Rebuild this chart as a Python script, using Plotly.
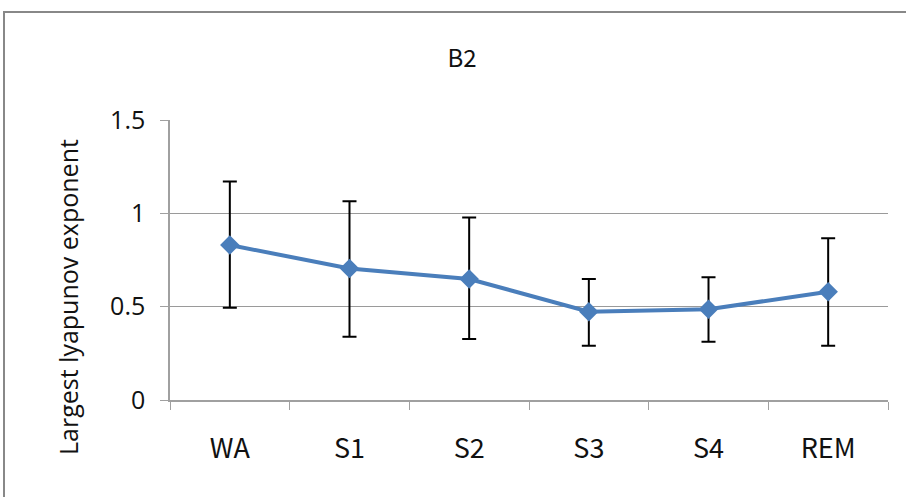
import plotly.graph_objects as go

categories = ["WA", "S1", "S2", "S3", "S4", "REM"]
means = [0.83, 0.705, 0.648, 0.473, 0.486, 0.58]
err_plus = [0.34, 0.36, 0.33, 0.175, 0.171, 0.286]
err_minus = [0.336, 0.366, 0.321, 0.182, 0.174, 0.289]
y_ticks = [0, 0.5, 1, 1.5]
y_tick_labels = ["0", "0.5", "1", "1.5"]

fig = go.Figure()
fig.add_trace(go.Scatter(
    x=categories, y=means, mode="lines+markers",
    line=dict(color="#4a7ebb", width=4),
    marker=dict(symbol="diamond", size=15, color="#4a7ebb"),
    error_y=dict(type="data", symmetric=False, array=err_plus, arrayminus=err_minus,
                 color="black", thickness=2, width=7),
    showlegend=False,
))

fig.update_layout(
    width=906, height=497,
    margin=dict(l=170, r=18, t=120, b=97),
    paper_bgcolor="white", plot_bgcolor="white",
    title=dict(text="B2", x=462/906, xanchor="center", y=1-59/497, yanchor="middle",
               font=dict(family="Noto Sans CJK KR", size=24, color="#111111")),
    xaxis=dict(
        type="category", showgrid=False, showline=True, linecolor="#a0a0a0", linewidth=1.5,
        ticks="outside", tickson="boundaries", ticklen=8, tickcolor="#a0a0a0",
        tickfont=dict(family="Noto Sans CJK KR", size=27, color="#111111"),
        ticklabelstandoff=24, range=[-0.5, 5.5],
    ),
    yaxis=dict(
        range=[0, 1.5], tickvals=y_ticks, ticktext=y_tick_labels,
        showgrid=True, gridcolor="#9a9a9a", gridwidth=1,
        showline=True, linecolor="#a0a0a0", linewidth=1.5,
        ticks="outside", ticklen=8, tickcolor="#a0a0a0",
        tickfont=dict(family="Open Sans", size=25, color="#111111"),
        ticklabelstandoff=10, zeroline=False,
    ),
    shapes=[dict(type="rect", xref="paper", yref="paper",
                 x0=(4 - 170) / 718, x1=1.2, y0=-0.6, y1=(400 - 12) / 280,
                 line=dict(color="#888888", width=2), fillcolor="rgba(0,0,0,0)", layer="below")],
    annotations=[dict(text="Largest lyapunov exponent", textangle=-90, xref="paper", yref="paper",
                      x=(68 - 170) / 718, y=(400 - 297) / 280, xanchor="center", yanchor="middle",
                      showarrow=False, font=dict(family="Open Sans", size=25, color="#111111"))],
)

fig.write_html("out.html")
